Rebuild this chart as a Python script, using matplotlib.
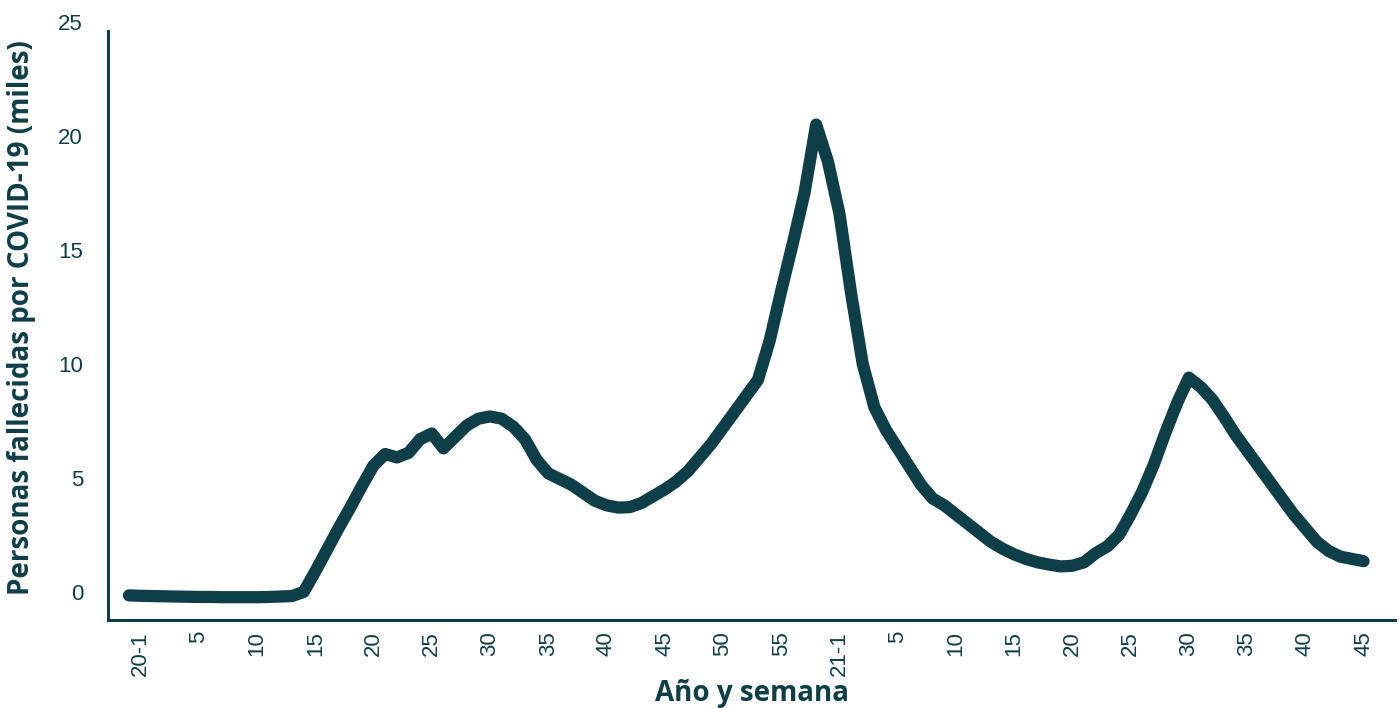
import matplotlib
matplotlib.use("Agg")
import matplotlib.pyplot as plt
import numpy as np

# ----------------------------
# Data (weekly deaths, thousands)
# ----------------------------
deaths = [
    -0.15, -0.17, -0.18, -0.19, -0.20, -0.21, -0.22, -0.22, -0.23, -0.23,
    -0.23, -0.23, -0.22, -0.20, -0.18, 0.00, 0.90, 1.85, 2.80, 3.70,
    4.65, 5.55, 6.05, 5.90, 6.10, 6.70, 6.95, 6.30, 6.80, 7.30,
    7.60, 7.70, 7.60, 7.25, 6.70, 5.80, 5.20, 4.95, 4.70, 4.35,
    4.00, 3.80, 3.70, 3.72, 3.90, 4.20, 4.50, 4.85, 5.30, 5.90,
    6.50, 7.20, 7.90, 8.60, 9.30, 11.00, 13.20, 15.30, 17.50, 20.50,
    18.90, 16.60, 13.10, 10.00, 8.10, 7.10, 6.30, 5.50, 4.70, 4.10,
    3.80, 3.40, 3.00, 2.60, 2.20, 1.90, 1.65, 1.45, 1.30, 1.20,
    1.12, 1.15, 1.30, 1.70, 2.00, 2.50, 3.40, 4.40, 5.60, 7.00,
    8.30, 9.40, 9.00, 8.45, 7.70, 6.90, 6.20, 5.50, 4.80, 4.10,
    3.40, 2.80, 2.20, 1.80, 1.55, 1.45, 1.35,
]
tick_labels = ["20-1", "5", "10", "15", "20", "25", "30", "35", "40", "45",
               "50", "55", "21-1", "5", "10", "15", "20", "25", "30", "35",
               "40", "45"]
y_ticks = [0, 5, 10, 15, 20, 25]

COLOR = "#0e3f48"
plt.rcParams['font.family'] = ['Liberation Sans', 'DejaVu Sans']

fig = plt.figure(figsize=(13.99, 7.08), dpi=100)
ax = fig.add_axes([108 / 1399, 1 - 620 / 708, 1287 / 1399, 598 / 708])

x = np.arange(len(deaths))
ax.plot(x, deaths, color=COLOR, lw=8.8, solid_capstyle="round",
        solid_joinstyle="round")

ax.set_xlim(-1.8, 108.7)
ax.set_ylim(-1.23, 25)

ax.set_xticks(np.arange(len(tick_labels)) * 5 + 1)
ax.set_xticklabels(tick_labels, rotation=90)
ax.set_yticks(y_ticks)
ax.tick_params(axis="both", length=0, colors=COLOR, labelsize=16)
ax.tick_params(axis="x", pad=8)
ax.tick_params(axis="y", pad=18)

for s in ["top", "right"]:
    ax.spines[s].set_visible(False)
for s in ["left", "bottom"]:
    ax.spines[s].set_color(COLOR)
    ax.spines[s].set_linewidth(2.2)
ax.spines["left"].set_bounds(-1.23, 24.6)

fig.text(22 / 1399, 1 - 318 / 708, "Personas fallecidas por COVID-19 (miles)",
         rotation=90, ha="center", va="center", color=COLOR,
         fontsize=20, fontweight="bold", family=["Open Sans", "DejaVu Sans"])
fig.text(752 / 1399, 1 - 693 / 708, "Año y semana", ha="center", va="center",
         color=COLOR, fontsize=20, fontweight="bold",
         family=["Open Sans", "DejaVu Sans"])

fig.savefig("out.png", dpi=100)
